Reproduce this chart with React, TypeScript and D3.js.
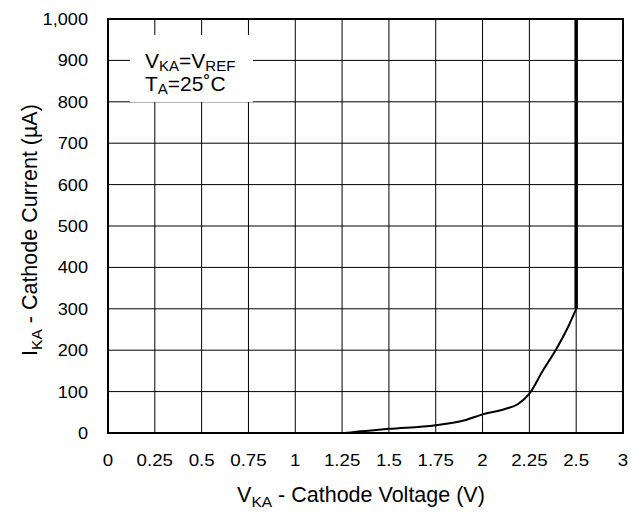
import React, { useEffect, useRef } from 'react'
import * as d3 from 'd3'

// x tick labels sit on evenly spaced grid lines (the last one reads "3")
const xTickLabels = ['0', '0.25', '0.5', '0.75', '1', '1.25', '1.5', '1.75', '2', '2.25', '2.5', '3']
const yTicks = [0, 100, 200, 300, 400, 500, 600, 700, 800, 900, 1000]

// cathode voltage (V) vs cathode current (uA)
const voltage = [0, 0.5, 1.0, 1.25, 1.35, 1.5, 1.75, 1.9, 2.0, 2.12, 2.19, 2.25, 2.32, 2.39, 2.45, 2.5]
const current = [0, 0, 0, 0, 4, 10, 19, 30, 45, 58, 70, 95, 149, 200, 250, 300]
// breakdown: vertical rise at 2.5 V
const breakdownV = 2.5
const breakdownTop = 1000

const App = () => {
  const ref = useRef<SVGSVGElement>(null)

  useEffect(() => {
    const svg = d3.select(ref.current)
    svg.selectAll('*').remove()

    const margin = { top: 19, left: 108, right: 8, bottom: 80 }
    const width = 631
    const height = 513
    const w = width - margin.left - margin.right
    const h = height - margin.top - margin.bottom
    const font = 'Liberation Sans, Arial, sans-serif'

    const g = svg.append('g').attr('transform', 'translate(' + margin.left + ',' + margin.top + ')')

    const x = d3.scaleLinear().domain([0, 2.75]).range([0, w])
    const y = d3.scaleLinear().domain([0, 1000]).range([h, 0])
    const xTickVals = xTickLabels.map((_, i) => i * 0.25)

    // grid
    g.append('g')
      .selectAll('line')
      .data(xTickVals.slice(1, -1))
      .enter().append('line')
      .attr('x1', d => x(d)).attr('x2', d => x(d))
      .attr('y1', 0).attr('y2', h)
      .attr('stroke', '#000').attr('stroke-width', 1)
    g.append('g')
      .selectAll('line')
      .data(yTicks.slice(1, -1))
      .enter().append('line')
      .attr('x1', 0).attr('x2', w)
      .attr('y1', d => y(d)).attr('y2', d => y(d))
      .attr('stroke', '#000').attr('stroke-width', 1)

    // annotation box covers the grid
    g.append('rect')
      .attr('x', 22).attr('y', 16).attr('width', 123).attr('height', 67)
      .attr('fill', '#fff')

    const ann = g.append('g')
      .attr('font-family', font)
      .attr('font-size', 21)
      .attr('fill', '#000')
    const t1 = ann.append('text').attr('x', 37).attr('y', 49)
    t1.append('tspan').text('V')
    t1.append('tspan').attr('font-size', 15).attr('dy', 3).text('KA')
    t1.append('tspan').attr('dy', -3).text('=V')
    t1.append('tspan').attr('font-size', 15).attr('dy', 3).text('REF')
    const t2 = ann.append('text').attr('x', 37).attr('y', 72)
    t2.append('tspan').text('T')
    t2.append('tspan').attr('font-size', 15).attr('dy', 3).text('A')
    t2.append('tspan').attr('dy', -3).text('=25˚C')

    // curve
    const pts: [number, number][] = voltage.map((v, i) => [v, current[i]])
    const line = d3.line<[number, number]>()
      .x(d => x(d[0]))
      .y(d => y(d[1]))
      .curve(d3.curveMonotoneX)
    g.append('path')
      .datum(pts)
      .attr('fill', 'none')
      .attr('stroke', '#000')
      .attr('stroke-width', 2)
      .attr('d', line)
    g.append('line')
      .attr('x1', x(breakdownV)).attr('x2', x(breakdownV))
      .attr('y1', y(current[current.length - 1])).attr('y2', y(breakdownTop) - 1)
      .attr('stroke', '#000').attr('stroke-width', 3.5)

    // border
    g.append('rect')
      .attr('x', 0).attr('y', 0).attr('width', w).attr('height', h)
      .attr('fill', 'none').attr('stroke', '#000').attr('stroke-width', 2)

    // tick labels (slightly wide lettering, as in the source)
    g.append('g')
      .selectAll('text')
      .data(xTickLabels)
      .enter().append('text')
      .attr('transform', (_, i) => 'translate(' + x(xTickVals[i]) + ',' + (h + 33) + ') scale(1.17,1)')
      .attr('text-anchor', 'middle')
      .attr('font-family', font).attr('font-size', 16)
      .text(d => d)
    g.append('g')
      .selectAll('text')
      .data(yTicks)
      .enter().append('text')
      .attr('transform', d => 'translate(-20,' + (y(d) + 6) + ') scale(1.1,1)')
      .attr('text-anchor', 'end')
      .attr('font-family', font).attr('font-size', 16.5)
      .text(d => d3.format(',')(d))

    // axis titles
    const xt = svg.append('text')
      .attr('x', 361).attr('y', 502)
      .attr('text-anchor', 'middle')
      .attr('font-family', font).attr('font-size', 21.5)
    xt.append('tspan').text('V')
    xt.append('tspan').attr('font-size', 15.5).attr('dy', 5).text('KA')
    xt.append('tspan').attr('dy', -5).text(' - Cathode Voltage (V)')

    const yt = svg.append('text')
      .attr('transform', 'translate(37,230) rotate(-90)')
      .attr('text-anchor', 'middle')
      .attr('font-family', font).attr('font-size', 21.5)
    yt.append('tspan').text('I')
    yt.append('tspan').attr('font-size', 15.5).attr('dy', 5).text('KA')
    yt.append('tspan').attr('dy', -5).text(' - Cathode Current (µA)')
  }, [])

  return <svg ref={ref} width={631} height={513} style={{ position: 'absolute', left: 0, top: 0, background: '#fff' }} />
}

export default App
